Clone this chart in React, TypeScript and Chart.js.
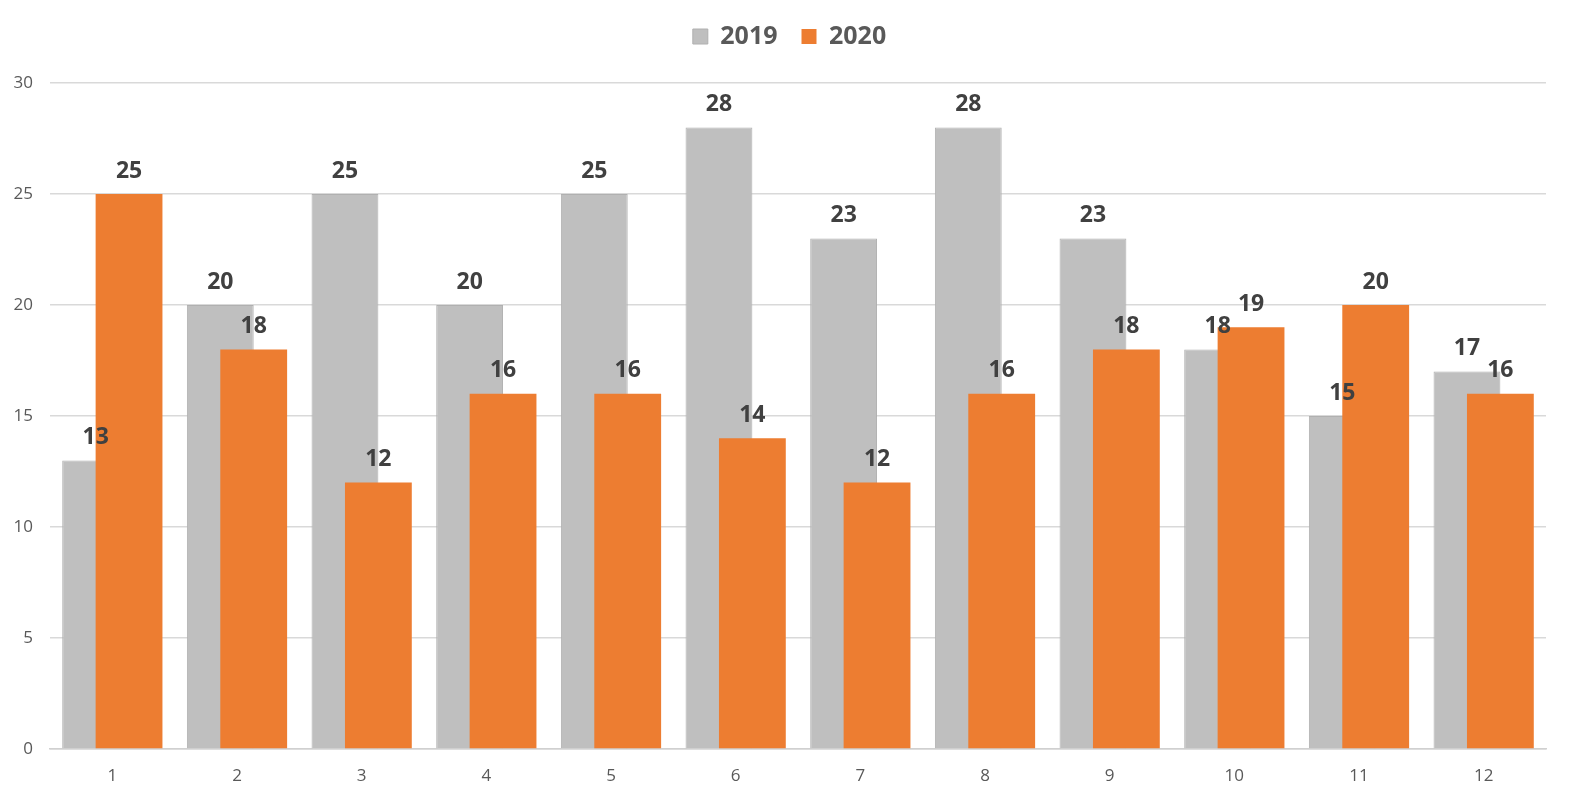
import { useEffect, useRef } from "react";
import { Chart, registerables } from "chart.js";

Chart.register(...registerables);

const months = [1, 2, 3, 4, 5, 6, 7, 8, 9, 10, 11, 12];
const values2019 = [13, 20, 25, 20, 25, 28, 23, 28, 23, 18, 15, 17];
const values2020 = [25, 18, 12, 16, 16, 14, 12, 16, 18, 19, 20, 16];
const yTicks = [0, 5, 10, 15, 20, 25, 30];

// half the distance between the two bars of a month, in category units
const SHIFT = 0.134;

const labelPlugin = {
  id: "barLabels",
  afterDatasetsDraw(chart: Chart) {
    const ctx = chart.ctx;
    ctx.save();
    ctx.font = "bold 23px 'Open Sans', sans-serif";
    ctx.fillStyle = "#404040";
    ctx.textAlign = "center";
    ctx.textBaseline = "middle";
    chart.data.datasets.forEach((ds, di) => {
      const meta = chart.getDatasetMeta(di);
      meta.data.forEach((el: any, i) => {
        const v = (ds.data[i] as any).y;
        ctx.fillText(String(v), el.x, el.y - 23);
      });
    });
    ctx.restore();
  },
};

// leave room under the legend and center it on the whole page
const legendSpace = {
  id: "legendSpace",
  beforeUpdate(chart: any) {
    const legend = chart.legend;
    if (!legend || legend._patched) return;
    const fit = legend.fit;
    legend.fit = function () {
      fit.call(this);
      this.height = 83;
    };
    legend._patched = true;
  },
  afterLayout(chart: any) {
    const legend = chart.legend;
    if (!legend) return;
    legend.left = 10;
    legend.right = chart.width;
    legend.width = legend.right - legend.left;
  },
};

export default function App() {
  const chartRef = useRef<HTMLCanvasElement>(null);
  const chartInstance = useRef<Chart | null>(null);

  useEffect(() => {
    document.body.style.margin = "0";
    if (!chartRef.current) return;
    if (chartInstance.current) chartInstance.current.destroy();
    const ctx = chartRef.current.getContext("2d");
    if (!ctx) return;

    chartInstance.current = new Chart(ctx, {
      type: "bar",
      data: {
        datasets: [
          {
            label: "2019",
            data: months.map((m, i) => ({ x: m - SHIFT, y: values2019[i] })),
            backgroundColor: "#bfbfbf",
            borderColor: "#b0b0b0",
            borderWidth: 1,
            order: 1,
          },
          {
            label: "2020",
            data: months.map((m, i) => ({ x: m + SHIFT, y: values2020[i] })),
            backgroundColor: "#ed7d31",
            order: 0,
          },
        ],
      },
      options: {
        animation: false,
        responsive: true,
        maintainAspectRatio: false,
        layout: { padding: { left: 0, right: 23, top: 0, bottom: 0 } },
        datasets: {
          bar: { grouped: false, barPercentage: 2.0, categoryPercentage: 1 },
        },
        plugins: {
          tooltip: { enabled: false },
          legend: {
            position: "top",
            labels: {
              sort: (a, b) => (a.datasetIndex ?? 0) - (b.datasetIndex ?? 0),
              boxWidth: 15,
              boxHeight: 15,
              padding: 24,
              color: "#595959",
              font: { family: "'Open Sans', sans-serif", size: 25, weight: "bold" },
            },
          },
        },
        scales: {
          x: {
            type: "linear",
            min: 0.5,
            max: 12.5,
            offset: false,
            afterBuildTicks: (axis) => {
              axis.ticks = months.map((m) => ({ value: m }));
            },
            afterFit: (axis) => {
              axis.height = 48;
            },
            grid: { display: false, offset: false },
            border: { color: "#d0d0d0", width: 1.5 },
            ticks: {
              color: "#595959",
              padding: 9,
              maxRotation: 0,
              font: { family: "'Open Sans', sans-serif", size: 17 },
              callback: (v) => String(v),
            },
          },
          y: {
            min: 0,
            max: 30,
            afterBuildTicks: (axis) => {
              axis.ticks = yTicks.map((t) => ({ value: t }));
            },
            afterFit: (axis) => {
              axis.width = 50;
            },
            grid: { color: "#d9d9d9", lineWidth: 1.5, drawTicks: false },
            border: { display: false },
            ticks: {
              color: "#595959",
              padding: 17,
              font: { family: "'Open Sans', sans-serif", size: 17 },
            },
          },
        },
      },
      plugins: [labelPlugin, legendSpace],
    });

    return () => {
      if (chartInstance.current) {
        chartInstance.current.destroy();
        chartInstance.current = null;
      }
    };
  }, []);

  return (
    <div style={{ position: "fixed", left: 0, top: 0, width: "100vw", height: "100vh", background: "#fff" }}>
      <canvas ref={chartRef} />
    </div>
  );
}
